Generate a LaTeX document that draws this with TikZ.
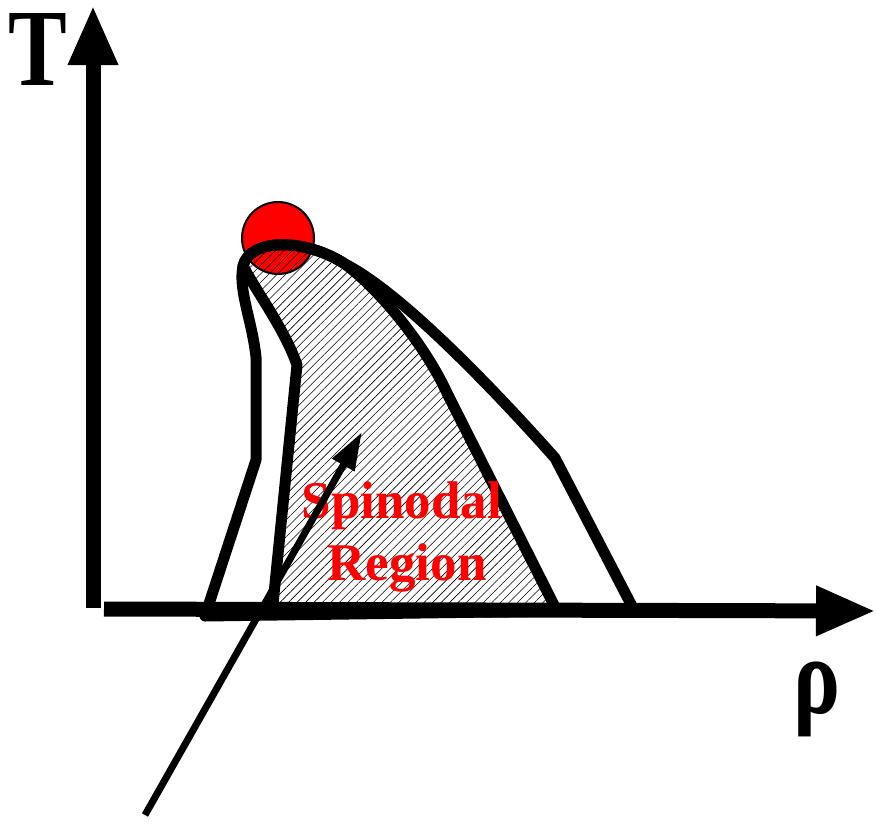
\documentclass[tikz,border=0pt]{standalone}
\usepackage{fontspec}
\setmainfont{Liberation Serif}
\usetikzlibrary{arrows.meta,patterns.meta}

\tikzset{
  axisline/.style={line width=15pt,-{Triangle[length=60pt,width=46pt]}},
  phaseline/.style={line width=11pt,line join=round,line cap=round},
  axislabel/.style={inner sep=0pt,font=\bfseries\fontsize{88}{88}\selectfont},
  regionlabel/.style={inner sep=0pt,text=red,font=\bfseries\fontsize{53}{62}\selectfont},
}

\begin{document}
\begin{tikzpicture}[x=1pt,y=-1pt]
    \useasboundingbox (0,0) rectangle (876,823);

    % critical point
    \fill[red,draw=black,line width=2pt] (278,238) circle (36);

    % spinodal region (hatched)
    \fill[pattern={Lines[angle=45,distance=6pt,line width=0.6pt]}]
    (272,614) -- (297,365) .. controls (285,330) and (258,294) .. (243,266)
    .. controls (250,238) and (305,238) .. (345,264)
    .. controls (380,290) and (425,345) .. (447,393) -- (557,611) -- cycle;

    % axes
    \draw[axisline] (104,609) -- (876,611);
    \draw[axisline] (93,608) -- (93,5);
    \node[axislabel] (T) at (38,49) {\scalebox{1}[1.25]{T}};
    \node[axislabel] (rho) at (817,699) {\scalebox{1}[1.25]{ρ}};

    % binodal
    \draw[phaseline] (205,616) -- (256,460) -- (256,357)
    .. controls (252,320) and (238,290) .. (243,266)
    .. controls (250,238) and (305,238) .. (345,264)
    .. controls (400,292) and (490,385) .. (555,458) -- (634,610) -- cycle;

    % spinodal
    \draw[phaseline] (272,614) -- (297,365) .. controls (285,330) and (258,294) .. (243,266)
    .. controls (250,238) and (305,238) .. (345,264)
    .. controls (380,290) and (425,345) .. (447,393) -- (557,611) -- cycle;

    \node[regionlabel,anchor=base] (spin) at (402,518) {Spinodal};
    \node[regionlabel,anchor=base] (region) at (407,580) {Region};

    % pointer
    \coordinate (tail) at (145,815);
    \coordinate (head) at (362,432);
    \draw[line width=7pt,-{Triangle[length=38pt,width=24pt]}] (tail) -- (head);
\end{tikzpicture}
\end{document}
